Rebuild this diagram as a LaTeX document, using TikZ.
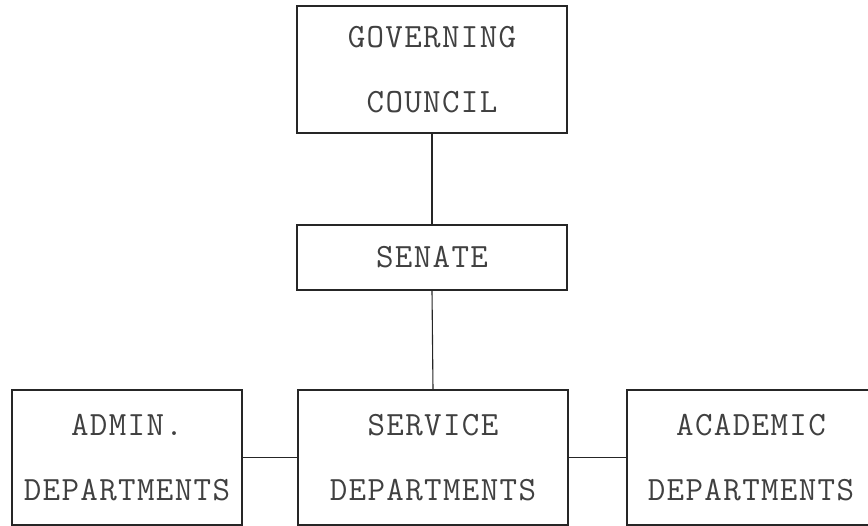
\documentclass[tikz,border=0pt]{standalone}
\usepackage{fontspec}
\setmonofont{Latin Modern Mono}[LetterSpace=4]
\usepackage{tikz}

\begin{document}
\begin{tikzpicture}[x=1pt,y=-1pt,line width=1.1pt,
  orgbox/.style={draw=black!85,inner sep=0pt,align=center,text=black!75,
    font=\ttfamily\fontsize{34}{65}\selectfont},
  link/.style={draw=black!85,line width=1.1pt}]
  \useasboundingbox (0,0) rectangle (868,526);
  \node[orgbox,minimum width=270,minimum height=127] (gov) at (432,69.5){GOVERNING\\COUNCIL};
  \node[orgbox,minimum width=270,minimum height=65] (senate) at (432,257.5){SENATE};
  \node[orgbox,minimum width=270,minimum height=135] (service) at (433,457.5){SERVICE\\DEPARTMENTS};
  \node[orgbox,minimum width=230,minimum height=135] (admin) at (127,457.5){ADMIN.\\DEPARTMENTS};
  \node[orgbox,minimum width=248,minimum height=135] (academic) at (751,457.5){ACADEMIC\\DEPARTMENTS};
  \draw[link] (gov.south) -- (senate.north);
  \draw[link] (senate.south) -- (service.north);
  \draw[link] (admin.east) -- (service.west);
  \draw[link] (service.east) -- (academic.west);
\end{tikzpicture}
\end{document}
